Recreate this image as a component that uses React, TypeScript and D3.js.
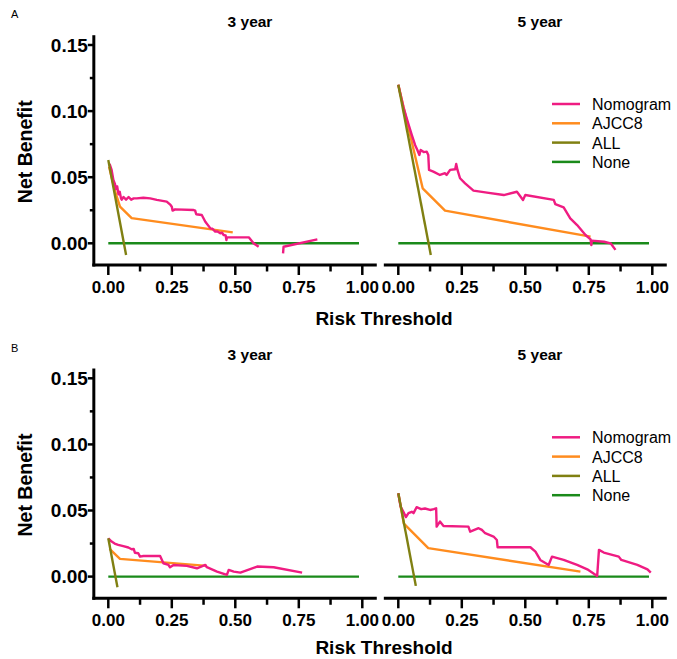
import React, { useRef, useEffect } from 'react';
import * as d3 from 'd3';

type Pt = [number, number | null];

// Panel A, 3 year
const nomogramA3: Pt[] = [
  [0.005, 0.06], [0.013, 0.0555], [0.02, 0.048], [0.026, 0.045], [0.03, 0.041], [0.035, 0.043],
  [0.04, 0.037], [0.045, 0.039], [0.05, 0.034], [0.053, 0.033], [0.06, 0.035], [0.07, 0.033],
  [0.08, 0.035], [0.09, 0.033], [0.1, 0.034], [0.112, 0.034], [0.138, 0.0345], [0.165, 0.034],
  [0.191, 0.0328], [0.23, 0.0315], [0.245, 0.029], [0.25, 0.0277], [0.253, 0.0247], [0.263, 0.0257],
  [0.336, 0.0252], [0.342, 0.0247], [0.346, 0.022], [0.368, 0.0214], [0.382, 0.0163], [0.402, 0.0113],
  [0.41, 0.011], [0.421, 0.0088], [0.43, 0.009], [0.441, 0.0076], [0.448, 0.008], [0.454, 0.0063],
  [0.462, 0.006], [0.465, 0.0025], [0.467, 0.0045], [0.553, 0.0045], [0.572, 0.0], [0.592, -0.0026],
  [0.64, null],
  [0.688, -0.0076], [0.69, -0.0026], [0.823, 0.003],
];
const ajccA3: Pt[] = [[0.003, 0.058], [0.027, 0.039], [0.046, 0.0277], [0.092, 0.019], [0.49, 0.0083]];
const allA3: Pt[] = [[0, 0.063], [0.07, -0.0089]];

// Panel A, 5 year
const nomogramA5: Pt[] = [
  [0, 0.12], [0.02, 0.103], [0.039, 0.0908], [0.053, 0.082], [0.066, 0.0744], [0.075, 0.0706],
  [0.083, 0.0668], [0.088, 0.0706], [0.1, 0.069], [0.112, 0.0693], [0.118, 0.0668], [0.121, 0.0555],
  [0.138, 0.0542], [0.164, 0.0517], [0.184, 0.053], [0.19, 0.0517], [0.204, 0.0555], [0.224, 0.056],
  [0.228, 0.06], [0.233, 0.0555], [0.243, 0.0492], [0.263, 0.0454], [0.296, 0.0398], [0.349, 0.0383],
  [0.415, 0.0365], [0.467, 0.039], [0.491, 0.0328], [0.5, 0.0365], [0.612, 0.0328], [0.618, 0.0297],
  [0.651, 0.0272], [0.677, 0.0189], [0.704, 0.0138], [0.737, 0.0063], [0.757, 0.003], [0.76, -0.0013],
  [0.762, 0.002], [0.81, 0.0012], [0.836, 0], [0.855, -0.005],
];
const ajccA5: Pt[] = [[0, 0.12], [0.096, 0.0416], [0.184, 0.0247], [0.757, 0.005]];
const allA5: Pt[] = [[0, 0.12], [0.128, -0.0089]];

// Panel B, 3 year
const nomogramB3: Pt[] = [
  [0, 0.029], [0.013, 0.0265], [0.025, 0.025], [0.039, 0.024], [0.059, 0.023], [0.079, 0.022],
  [0.092, 0.0207], [0.1, 0.021], [0.105, 0.018], [0.118, 0.0177], [0.125, 0.0151], [0.138, 0.0156],
  [0.204, 0.0156], [0.217, 0.0101], [0.237, 0.0088], [0.243, 0.0071], [0.257, 0.0088], [0.309, 0.0081],
  [0.349, 0.0063], [0.382, 0.0088], [0.388, 0.0071], [0.428, 0.0038], [0.467, 0.0013], [0.474, 0.0051],
  [0.494, 0.0038], [0.52, 0.003], [0.586, 0.0076], [0.651, 0.0071], [0.763, 0.003],
];
const ajccB3: Pt[] = [[0.005, 0.021], [0.046, 0.0134], [0.388, 0.0081]];
const allB3: Pt[] = [[0, 0.029], [0.036, -0.008]];

// Panel B, 5 year
const nomogramB5: Pt[] = [
  [0, 0.063], [0.009, 0.053], [0.02, 0.049], [0.03, 0.045], [0.04, 0.048], [0.053, 0.049],
  [0.06, 0.048], [0.072, 0.0525], [0.09, 0.051], [0.105, 0.0515], [0.125, 0.0504], [0.14, 0.051],
  [0.149, 0.0517], [0.151, 0.0378], [0.164, 0.0416], [0.178, 0.0383], [0.276, 0.0378], [0.283, 0.034],
  [0.316, 0.0366], [0.329, 0.0353], [0.342, 0.0328], [0.375, 0.0303], [0.388, 0.0277], [0.391, 0.0222],
  [0.52, 0.0222], [0.54, 0.0189], [0.559, 0.0126], [0.592, 0.0088], [0.605, 0.0151], [0.651, 0.0126],
  [0.704, 0.0088], [0.744, 0.0055], [0.783, 0.0005], [0.79, 0.0202], [0.809, 0.0182], [0.868, 0.0151],
  [0.878, 0.0126], [0.941, 0.0088], [0.981, 0.0055], [0.994, 0.003],
];
const ajccB5: Pt[] = [[0, 0.063], [0.022, 0.04], [0.118, 0.0215], [0.717, 0.0038]];
const allB5: Pt[] = [[0, 0.063], [0.069, -0.007]];

const noneLine: Pt[] = [[0, 0], [0.987, 0]];

const seriesNames = ['Nomogram', 'AJCC8', 'ALL', 'None'];
const seriesColors = ['#EF1C82', '#FF8C1E', '#808012', '#1A8A1A'];
const xTicks = [0, 0.25, 0.5, 0.75, 1];
const xMinorTicks = [0.125, 0.375, 0.625, 0.875];
const yTicks = [0, 0.05, 0.1, 0.15];
const yMinorTicks = [0.025, 0.075, 0.125];
const rowLabels = ['A', 'B'];
const panelTitles = ['3 year', '5 year'];

const panels = [
  { row: 0, col: 0, series: [nomogramA3, ajccA3, allA3, noneLine] },
  { row: 0, col: 1, series: [nomogramA5, ajccA5, allA5, noneLine] },
  { row: 1, col: 0, series: [nomogramB3, ajccB3, allB3, noneLine] },
  { row: 1, col: 1, series: [nomogramB5, ajccB5, allB5, noneLine] },
];

const FONT = "'Liberation Sans', Arial, sans-serif";

const App = () => {
  const ref = useRef<SVGSVGElement>(null);

  useEffect(() => {
    const svg = d3.select(ref.current);
    svg.selectAll('*').remove();

    const rowOffset = [0, 333.3];
    const riskLabelY = [325, 654];
    const colX0 = [108.3, 398.3];

    rowLabels.forEach((lab, r) => {
      svg.append('text')
        .attr('x', 11).attr('y', 18.3 + rowOffset[r])
        .style('font-family', FONT).style('font-size', '11px')
        .text(lab);

      svg.append('text')
        .attr('transform', `translate(32,${151.7 + rowOffset[r]}) rotate(-90)`)
        .attr('text-anchor', 'middle')
        .style('font-family', FONT).style('font-size', '19.5px').style('font-weight', 'bold')
        .text('Net Benefit');

      svg.append('text')
        .attr('x', 384).attr('y', riskLabelY[r])
        .attr('text-anchor', 'middle')
        .style('font-family', FONT).style('font-size', '19px').style('font-weight', 'bold')
        .text('Risk Threshold');
    });

    panels.forEach(p => {
      const off = rowOffset[p.row];
      const x = d3.scaleLinear().domain([0, 1]).range([colX0[p.col], colX0[p.col] + 254]);
      const y = d3.scaleLinear().domain([0, 0.15]).range([243.3 + off, 45 + off]);
      const g = svg.append('g');

      // title
      g.append('text')
        .attr('x', p.col === 0 ? 250 : 540).attr('y', 27 + off)
        .attr('text-anchor', 'middle')
        .style('font-family', FONT).style('font-size', '15.5px').style('font-weight', 'bold')
        .text(panelTitles[p.col]);

      // x axis
      const xa0 = x(-0.057), xa1 = x(1.057);
      const yAxisY = y(-0.0164);
      g.append('line')
        .attr('x1', p.col === 0 ? xa0 - 1.5 : xa0).attr('x2', xa1)
        .attr('y1', yAxisY).attr('y2', yAxisY)
        .attr('stroke', '#000').attr('stroke-width', 3);
      xTicks.forEach(t => {
        g.append('line')
          .attr('x1', x(t)).attr('x2', x(t))
          .attr('y1', yAxisY).attr('y2', yAxisY + 10)
          .attr('stroke', '#000').attr('stroke-width', 2.5);
        g.append('text')
          .attr('x', x(t)).attr('y', 293 + off)
          .attr('text-anchor', 'middle')
          .style('font-family', FONT).style('font-size', '17px').style('font-weight', 'bold')
          .text(d3.format('.2f')(t));
      });
      xMinorTicks.forEach(t => {
        g.append('line')
          .attr('x1', x(t)).attr('x2', x(t))
          .attr('y1', yAxisY).attr('y2', yAxisY + 6.5)
          .attr('stroke', '#000').attr('stroke-width', 2.5);
      });

      // y axis (left panels only)
      if (p.col === 0) {
        g.append('line')
          .attr('x1', xa0).attr('x2', xa0)
          .attr('y1', y(0.1574)).attr('y2', yAxisY + 1.5)
          .attr('stroke', '#000').attr('stroke-width', 3);
        yTicks.forEach(t => {
          g.append('line')
            .attr('x1', xa0 - 6).attr('x2', xa0)
            .attr('y1', y(t)).attr('y2', y(t))
            .attr('stroke', '#000').attr('stroke-width', 2.5);
          g.append('text')
            .attr('x', xa0 - 6).attr('y', y(t))
            .attr('dy', '0.36em')
            .attr('text-anchor', 'end')
            .style('font-family', FONT).style('font-size', '19px').style('font-weight', 'bold')
            .text(d3.format('.2f')(t));
        });
        yMinorTicks.forEach(t => {
          g.append('line')
            .attr('x1', xa0 - 4).attr('x2', xa0)
            .attr('y1', y(t)).attr('y2', y(t))
            .attr('stroke', '#000').attr('stroke-width', 2.5);
        });
      }

      const line = d3.line<Pt>()
        .defined(d => d[1] !== null)
        .x(d => x(d[0]))
        .y(d => y(d[1] as number));

      // draw order: None, AJCC8, Nomogram, ALL
      [3, 1, 0, 2].forEach(i => {
        g.append('path')
          .datum(p.series[i])
          .attr('d', line)
          .attr('fill', 'none')
          .attr('stroke', seriesColors[i])
          .attr('stroke-width', 2.4)
          .attr('stroke-linejoin', 'round');
      });

      // legend on right panels
      if (p.col === 1) {
        seriesNames.forEach((name, i) => {
          const ly = 104 + off + i * 19.3;
          g.append('line')
            .attr('x1', 552).attr('x2', 580)
            .attr('y1', ly).attr('y2', ly)
            .attr('stroke', seriesColors[i]).attr('stroke-width', 2.5);
          g.append('text')
            .attr('x', 592).attr('y', ly + 6)
            .style('font-family', FONT).style('font-size', '16px')
            .text(name);
        });
      }
    });
  }, []);

  return (
    <svg
      ref={ref}
      width={677}
      height={659}
      style={{ position: 'absolute', left: 0, top: 0, background: '#fff' }}
    />
  );
};

export default App;
